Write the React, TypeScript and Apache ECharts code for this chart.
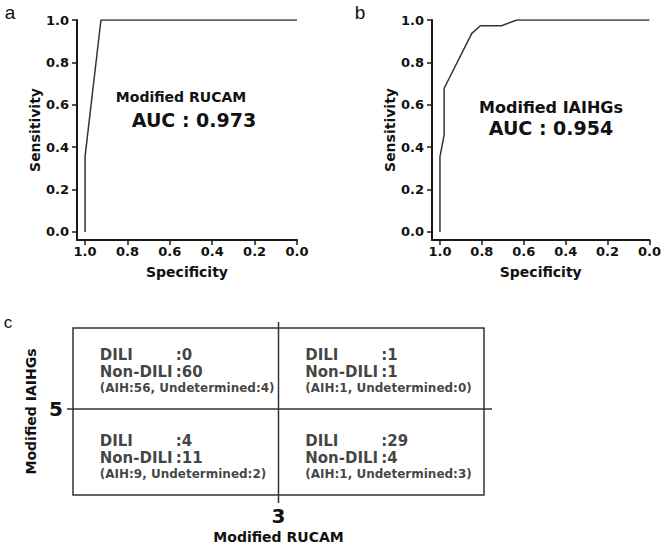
import React, { useEffect, useRef } from "react";
import * as echarts from "echarts";

// ---------- data ----------
const rocTicks = [0, 0.2, 0.4, 0.6, 0.8, 1.0];

// Panel a: Modified RUCAM ROC curve
const rucamSpecificity = [1.0, 1.0, 0.925, 0.0];
const rucamSensitivity = [0.0, 0.355, 1.0, 1.0];
const rucamAuc = "0.973";

// Panel b: Modified IAIHGs ROC curve
const iaihgSpecificity = [1.0, 1.0, 0.98, 0.98, 0.848, 0.807, 0.706, 0.633, 0.0];
const iaihgSensitivity = [0.0, 0.355, 0.458, 0.678, 0.937, 0.973, 0.973, 1.0, 1.0];
const iaihgAuc = "0.954";

// Panel c: cross table (order: top-left, top-right, bottom-left, bottom-right)
const rucamCut = 3;
const iaihgCut = 5;
const rucamRange = [0, 6];
const iaihgRange = [0, 9.7];
const cellRucamSide = ["low", "high", "low", "high"];
const cellIaihgSide = ["high", "high", "low", "low"];
const cellDili = [0, 1, 4, 29];
const cellNonDili = [60, 1, 11, 4];
const cellAih = [56, 1, 9, 1];
const cellUndetermined = [4, 0, 2, 3];

// ---------- styles ----------
const FONT = "'DejaVu Sans', Verdana, sans-serif";
const AXIS_PAD = 0.038;
const INK = "#1a1a1a";

function rocXAxis(gridIndex: number) {
  return {
    type: "value",
    gridIndex,
    inverse: true,
    min: 0,
    max: 1 + AXIS_PAD,
    axisLine: { show: true, onZero: false, lineStyle: { color: INK, width: 2 } },
    axisTick: { show: true, customValues: rocTicks, length: 5, lineStyle: { color: INK, width: 1.5 } },
    axisLabel: {
      customValues: rocTicks,
      formatter: (v: number) => v.toFixed(1),
      margin: 5,
      fontSize: 13,
      fontWeight: "bold",
      color: "#111",
      fontFamily: FONT,
    },
    splitLine: { show: false },
    name: "Specificity",
    nameLocation: "middle",
    nameGap: 32,
    nameTextStyle: { fontSize: 14, fontWeight: "bold", color: "#111", fontFamily: FONT, verticalAlign: "middle" },
  };
}

function rocYAxis(gridIndex: number) {
  return {
    type: "value",
    gridIndex,
    min: -AXIS_PAD,
    max: 1,
    axisLine: { show: true, onZero: false, lineStyle: { color: INK, width: 2 } },
    axisTick: { show: true, customValues: rocTicks, length: 5, lineStyle: { color: INK, width: 1.5 } },
    axisLabel: {
      customValues: rocTicks,
      formatter: (v: number) => v.toFixed(1),
      margin: 8,
      fontSize: 13,
      fontWeight: "bold",
      color: "#111",
      fontFamily: FONT,
    },
    splitLine: { show: false },
    name: "Sensitivity",
    nameLocation: "middle",
    nameGap: 42,
    nameTextStyle: { fontSize: 14, fontWeight: "bold", color: "#111", fontFamily: FONT, verticalAlign: "middle" },
  };
}

function zip(xs: number[], ys: number[]) {
  return xs.map((x, i) => [x, ys[i]]);
}

export default function App() {
  const ref = useRef<HTMLDivElement>(null);

  useEffect(() => {
    if (!ref.current) return;
    const chart = echarts.init(ref.current, null, { renderer: "svg" });

    const xMid = (side: string) =>
      side === "low" ? (rucamRange[0] + rucamCut) / 2 : (rucamCut + rucamRange[1]) / 2;
    const yMid = (side: string) =>
      side === "low" ? (iaihgRange[0] + iaihgCut) / 2 : (iaihgCut + iaihgRange[1]) / 2;

    const cellData = cellDili.map((d, i) => ({
      value: [xMid(cellRucamSide[i]), yMid(cellIaihgSide[i])],
      label: { offset: [-76, cellIaihgSide[i] === "high" ? 2.5 : 5] },
    }));

    const option: any = {
      animation: false,
      backgroundColor: "#ffffff",
      textStyle: { fontFamily: FONT },
      grid: [
        { left: 77, top: 20, width: 220, height: 220 },
        { left: 432, top: 20, width: 220, height: 220 },
        {
          left: 73,
          top: 328,
          width: 411,
          height: 167,
          show: true,
          borderColor: "#333",
          borderWidth: 1.5,
          backgroundColor: "transparent",
        },
      ],
      xAxis: [
        rocXAxis(0),
        rocXAxis(1),
        {
          type: "value",
          gridIndex: 2,
          min: rucamRange[0],
          max: rucamRange[1],
          axisLine: { show: false },
          axisTick: { show: false },
          splitLine: { show: false },
          axisLabel: {
            customValues: [rucamCut],
            margin: 11,
            fontSize: 20,
            fontWeight: "bold",
            color: "#111",
            fontFamily: FONT,
          },
          name: "Modified RUCAM",
          nameLocation: "middle",
          nameGap: 42,
          nameTextStyle: { fontSize: 14, fontWeight: "bold", color: "#111", fontFamily: FONT, verticalAlign: "middle" },
        },
      ],
      yAxis: [
        rocYAxis(0),
        rocYAxis(1),
        {
          type: "value",
          gridIndex: 2,
          min: iaihgRange[0],
          max: iaihgRange[1],
          axisLine: { show: false },
          axisTick: { show: false },
          splitLine: { show: false },
          axisLabel: {
            customValues: [iaihgCut],
            margin: 10,
            fontSize: 20,
            fontWeight: "bold",
            color: "#111",
            fontFamily: FONT,
          },
          name: "Modified IAIHGs",
          nameLocation: "middle",
          nameGap: 40,
          nameTextStyle: { fontSize: 14, fontWeight: "bold", color: "#111", fontFamily: FONT, verticalAlign: "middle" },
        },
      ],
      series: [
        {
          type: "line",
          xAxisIndex: 0,
          yAxisIndex: 0,
          data: zip(rucamSpecificity, rucamSensitivity),
          symbol: "none",
          lineStyle: { color: "#333", width: 1.5 },
        },
        {
          type: "line",
          xAxisIndex: 1,
          yAxisIndex: 1,
          data: zip(iaihgSpecificity, iaihgSensitivity),
          symbol: "none",
          lineStyle: { color: "#333", width: 1.5 },
        },
        {
          type: "custom",
          xAxisIndex: 2,
          yAxisIndex: 2,
          data: [[rucamCut, iaihgCut]],
          renderItem: (params: any, api: any) => {
            const p = api.coord([api.value(0), api.value(1)]);
            const cs = params.coordSys;
            const style = { stroke: "#333", lineWidth: 1.5 };
            return {
              type: "group",
              children: [
                { type: "line", shape: { x1: p[0], y1: cs.y - 6, x2: p[0], y2: cs.y + cs.height + 8 }, style },
                { type: "line", shape: { x1: cs.x - 6, y1: p[1], x2: cs.x + cs.width + 8, y2: p[1] }, style },
              ],
            };
          },
        },
        {
          type: "scatter",
          xAxisIndex: 2,
          yAxisIndex: 2,
          symbolSize: 1,
          itemStyle: { color: "transparent" },
          data: cellData,
          label: {
            show: true,
            position: "inside",
            align: "left",
            verticalAlign: "middle",
            formatter: (p: any) => {
              const i = p.dataIndex;
              return (
                `{k|DILI}{v|:${cellDili[i]}}\n` +
                `{k|Non-DILI}{v|:${cellNonDili[i]}}\n` +
                `{s|(AIH:${cellAih[i]}, Undetermined:${cellUndetermined[i]})}`
              );
            },
            rich: {
              k: { fontSize: 15, fontWeight: "bold", color: "#111", width: 76, lineHeight: 17, align: "left", fontFamily: FONT },
              v: { fontSize: 15, fontWeight: "bold", color: "#111", lineHeight: 17, align: "left", fontFamily: FONT },
              s: { fontSize: 12, fontWeight: "bold", color: "#111", lineHeight: 15, align: "left", fontFamily: FONT },
            },
          },
        },
      ],
      graphic: [
        { type: "text", x: 10, y: 12, style: { text: "a", fontSize: 19, fontFamily: "'Liberation Sans', Arial, sans-serif", fill: "#111", align: "center", verticalAlign: "middle" } },
        { type: "text", x: 360, y: 12, style: { text: "b", fontSize: 19, fontFamily: "'Liberation Sans', Arial, sans-serif", fill: "#111", align: "center", verticalAlign: "middle" } },
        { type: "text", x: 8, y: 322, style: { text: "c", fontSize: 17, fontFamily: "'Liberation Sans', Arial, sans-serif", fill: "#111", align: "center", verticalAlign: "middle" } },
        { type: "text", x: 181, y: 97, style: { text: "Modified RUCAM", fontSize: 14, fontWeight: "bold", fontFamily: FONT, fill: "#111", align: "center", verticalAlign: "middle" } },
        { type: "text", x: 194, y: 120, style: { text: "AUC : " + rucamAuc, fontSize: 19, fontWeight: "bold", fontFamily: FONT, fill: "#111", align: "center", verticalAlign: "middle" } },
        { type: "text", x: 551, y: 107, style: { text: "Modified IAIHGs", fontSize: 16, fontWeight: "bold", fontFamily: FONT, fill: "#111", align: "center", verticalAlign: "middle" } },
        { type: "text", x: 551, y: 128, style: { text: "AUC : " + iaihgAuc, fontSize: 19, fontWeight: "bold", fontFamily: FONT, fill: "#111", align: "center", verticalAlign: "middle" } },
      ],
    };

    chart.setOption(option);
    return () => chart.dispose();
  }, []);

  return (
    <div
      ref={ref}
      style={{ position: "fixed", left: 0, top: 0, width: 664, height: 546, background: "#fff" }}
    />
  );
}
